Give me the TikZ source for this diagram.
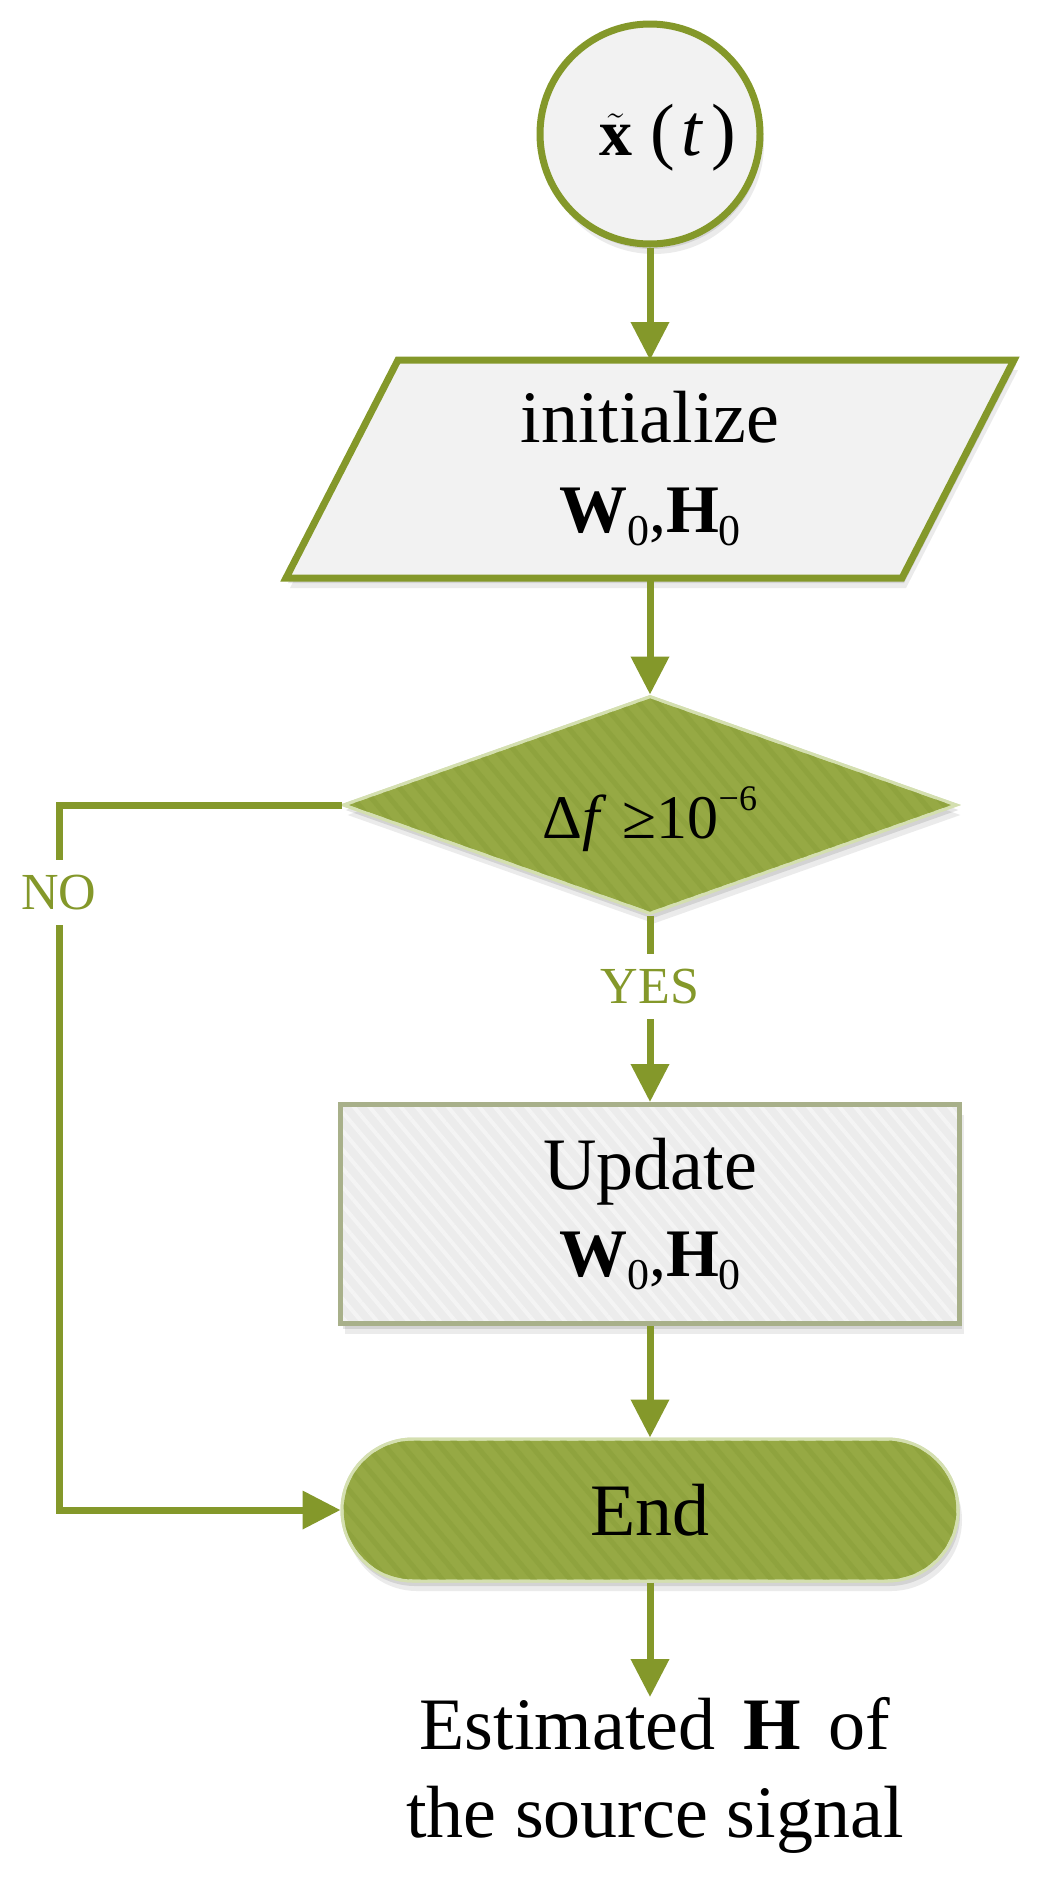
\documentclass[tikz,border=0pt]{standalone}
\usepackage{fontspec}
\setmainfont{Liberation Serif}
\usetikzlibrary{arrows.meta,shapes.geometric,shadows,patterns.meta,calc,backgrounds}
\definecolor{lineG}{RGB}{132,152,42}
\definecolor{decG}{RGB}{150,169,68}
\definecolor{decStripe}{RGB}{143,163,62}
\definecolor{lightB}{RGB}{212,223,176}
\definecolor{boxGray}{RGB}{242,242,242}
\definecolor{updGray}{RGB}{236,236,236}
\definecolor{updStripe}{RGB}{244,244,244}
\definecolor{updBorder}{RGB}{168,176,138}
\newcommand\zsub{\raisebox{-6.5pt}{\fontsize{22}{22}\selectfont 0}}
\newcommand\wh{\textbf{W}\zsub,\textbf{H}\zsub}
\begin{document}
\begin{tikzpicture}[x=0.5pt,y=-0.5pt,
  softshadow/.style={
    drop shadow={shadow xshift=1pt,shadow yshift=-2.5pt,opacity=0.10,fill=black},
    drop shadow={shadow xshift=2pt,shadow yshift=-5pt,opacity=0.08,fill=black}},
  startnode/.style={circle, draw=lineG, line width=3.5pt, fill=boxGray,
    minimum size=110pt, inner sep=0pt, softshadow},
  initbox/.style={rectangle, minimum width=308pt, minimum height=109pt,
    inner sep=0pt, outer sep=0pt, align=center, font=\fontsize{37}{45}\selectfont},
  pgram/.style={draw=lineG, line width=3.5pt, fill=boxGray, softshadow},
  decision/.style={diamond, draw=lightB, line width=1.5pt, fill=decG,
    minimum width=307pt, minimum height=109pt, inner sep=0pt, softshadow,
    postaction={pattern={Lines[angle=-50,distance=7pt,line width=2.5pt]}, pattern color=decStripe},
    postaction={draw=lightB, line width=1.5pt}},
  updbox/.style={rectangle, draw=updBorder, line width=2.5pt, fill=updGray,
    minimum width=309.5pt, minimum height=109.5pt, inner sep=0pt, softshadow,
    align=center, font=\fontsize{37}{43.5}\selectfont,
    postaction={pattern={Lines[angle=-50,distance=6pt,line width=2pt]}, pattern color=updStripe},
    postaction={draw=updBorder, line width=2.5pt}},
  endbox/.style={rectangle, rounded corners=35.5pt, draw=lightB, line width=1.5pt, fill=decG,
    minimum width=308pt, minimum height=71pt, inner sep=0pt, softshadow,
    font=\fontsize{37}{44}\selectfont,
    postaction={pattern={Lines[angle=-50,distance=7pt,line width=2.5pt]}, pattern color=decStripe},
    postaction={draw=lightB, line width=1.5pt}},
  arr/.style={draw=lineG, line width=3.5pt, -{Triangle[length=19pt,width=18.5pt]}},
  flowlab/.style={fill=white, text=lineG, font=\fontsize{26}{26}\selectfont,
    inner xsep=2pt, inner ysep=7.5pt},
  restext/.style={align=center, inner sep=0pt, font=\fontsize{37}{44}\selectfont}
]
\useasboundingbox (0,0) rectangle (1042,1880);

% start circle
\node[startnode] (circ) at (650,134) {};
\node[inner sep=0pt] (circtext) at ([xshift=9pt,yshift=-2pt]circ.center)
  {{\fontsize{33}{33}\selectfont$\tilde{\textbf{x}}$}\hspace{9pt}{\fontsize{37}{37}\selectfont(\hspace{3pt}\textit{t}\hspace{4pt})}};

% initialize (parallelogram)
\node[initbox] (init) at (650,469) {initialize\\{\fontsize{34}{45}\selectfont\wh}};
\begin{pgfonlayer}{background}
  \fill[white] (0,0) rectangle (1042,1880);
  \draw[pgram] ($(init.north west)+(56,0)$) -- ($(init.north east)+(56,0)$)
    -- ($(init.south east)+(-56,0)$) -- ($(init.south west)+(-56,0)$) -- cycle;
\end{pgfonlayer}

% decision
\node[decision] (dec) at (650,805) {};
\node[inner sep=0pt, font=\fontsize{31}{31}\selectfont] (dectext) at ([yshift=-7pt]dec.center)
  {Δ\textit{f} ≥10\raisebox{14pt}{\fontsize{18}{18}\selectfont −6}};

% update
\node[updbox] (upd) at (650,1214) {Update\\{\fontsize{34}{43.5}\selectfont\wh}};

% end
\node[endbox] (End) at (650,1510) {End};

% result text
\node[restext, anchor=north] (res) at (655,1697)
  {Estimated\hspace{14pt}\textbf{H}\hspace{14pt}of\\the source signal};

\coordinate (noX) at (59,806);

% connectors
\draw[arr] (circ.south) -- (circ.south |- init.north);
\draw[arr] (init.south) -- (dec.north);
\draw[arr] (dec.south) -- node[pos=0.38, flowlab] (yes) {YES} (upd.north);
\draw[arr] (upd.south) -- (End.north);
\draw[arr] (dec.west) -- (dec.west -| noX) -- node[pos=0.124, flowlab] (no) {NO} (End.west -| noX) -- (End.west);
\draw[arr] (End.south) -- (End.south |- res.north);
\end{tikzpicture}
\end{document}
